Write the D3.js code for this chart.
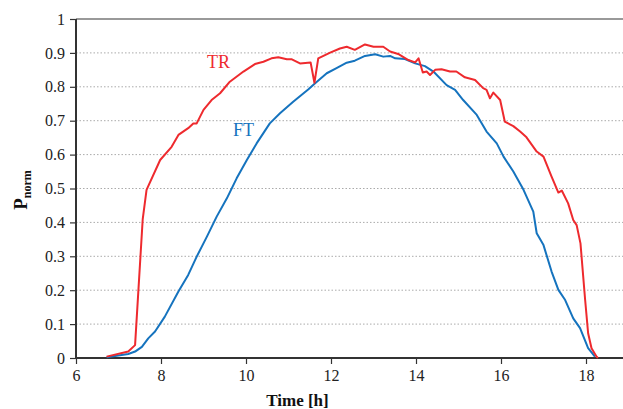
<!DOCTYPE html>
<html>
<head>
<meta charset="utf-8">
<script src="https://cdn.jsdelivr.net/npm/d3@7"></script>
<style>
  body { margin: 0; background: #fff; }
  text { font-family: 'Liberation Serif', 'DejaVu Serif', serif; }
</style>
</head>
<body>
<div id="chart"></div>
<script>
const xTicks = [6, 8, 10, 12, 14, 16, 18]
const yTicks = [0, 0.1, 0.2, 0.3, 0.4, 0.5, 0.6, 0.7, 0.8, 0.9, 1]

// TR series [time, Pnorm]
const trTime = [6.72, 7.23, 7.39, 7.57, 7.66, 7.98, 8.25, 8.41, 8.64, 8.76, 8.84, 9.0, 9.19, 9.39, 9.62, 9.94, 10.21, 10.41, 10.6, 10.76, 10.96, 11.08, 11.27, 11.52, 11.61, 11.7, 11.98, 12.21, 12.37, 12.56, 12.8, 13.0, 13.23, 13.39, 13.58, 13.82, 13.98, 14.06, 14.16, 14.25, 14.33, 14.45, 14.6, 14.8, 14.95, 15.15, 15.39, 15.58, 15.66, 15.74, 15.82, 15.98, 16.09, 16.29, 16.45, 16.6, 16.84, 17.0, 17.19, 17.35, 17.43, 17.58, 17.7, 17.78, 17.87, 17.98, 18.05, 18.13, 18.25, 18.28]
const trValue = [0.004, 0.019, 0.038, 0.41, 0.496, 0.584, 0.623, 0.658, 0.678, 0.692, 0.692, 0.732, 0.761, 0.781, 0.815, 0.845, 0.867, 0.874, 0.884, 0.887, 0.881, 0.881, 0.869, 0.872, 0.812, 0.884, 0.901, 0.913, 0.918, 0.909, 0.925, 0.918, 0.918, 0.904, 0.897, 0.879, 0.872, 0.884, 0.842, 0.845, 0.835, 0.85, 0.852, 0.845, 0.845, 0.828, 0.82, 0.796, 0.791, 0.766, 0.783, 0.761, 0.697, 0.684, 0.668, 0.651, 0.609, 0.594, 0.535, 0.488, 0.494, 0.456, 0.407, 0.392, 0.338, 0.171, 0.073, 0.029, 0.004, 0]

// FT series [time, Pnorm]
const ftTime = [6.72, 7.23, 7.39, 7.55, 7.7, 7.86, 8.09, 8.41, 8.64, 8.84, 9.08, 9.31, 9.55, 9.78, 10.02, 10.25, 10.56, 10.8, 11.11, 11.47, 11.62, 11.9, 12.13, 12.37, 12.56, 12.8, 13.04, 13.23, 13.39, 13.51, 13.74, 13.98, 14.21, 14.41, 14.72, 14.92, 15.11, 15.43, 15.66, 15.9, 16.06, 16.29, 16.53, 16.76, 16.84, 17.0, 17.19, 17.35, 17.51, 17.7, 17.86, 18.05, 18.21]
const ftValue = [0.002, 0.012, 0.019, 0.033, 0.058, 0.078, 0.122, 0.196, 0.245, 0.299, 0.358, 0.417, 0.471, 0.53, 0.584, 0.633, 0.692, 0.722, 0.756, 0.793, 0.81, 0.84, 0.855, 0.871, 0.877, 0.891, 0.896, 0.889, 0.891, 0.884, 0.882, 0.869, 0.861, 0.845, 0.805, 0.791, 0.761, 0.717, 0.668, 0.633, 0.594, 0.55, 0.496, 0.432, 0.368, 0.333, 0.255, 0.201, 0.171, 0.117, 0.088, 0.029, 0.004]

const width = 623
const height = 409
const margin = { top: 19, left: 76, bottom: 51 }

const svg = d3.select('#chart')
  .append('svg')
  .attr('width', width)
  .attr('height', height)

const x = d3.scaleLinear().domain([6, 19]).range([margin.left, margin.left + 13 * 42.5])
const y = d3.scaleLinear().domain([0, 1]).range([height - margin.bottom, margin.top])

// dotted grid
svg.append('g')
  .selectAll('line')
  .data(yTicks.filter(d => d > 0 && d < 1))
  .enter()
  .append('line')
  .attr('x1', margin.left)
  .attr('x2', width)
  .attr('y1', d => y(d))
  .attr('y2', d => y(d))
  .attr('stroke', '#aaa')
  .attr('stroke-width', 1)
  .attr('stroke-dasharray', '1.5,2')

// top border
svg.append('line')
  .attr('x1', margin.left)
  .attr('x2', width)
  .attr('y1', y(1))
  .attr('y2', y(1))
  .attr('stroke', '#777')
  .attr('stroke-width', 1.5)

const yAxis = svg.append('g')
  .attr('transform', `translate(${margin.left},0)`)
  .call(d3.axisLeft(y).tickValues(yTicks).tickFormat(d3.format('')).tickSize(6).tickPadding(5))

const xAxis = svg.append('g')
  .attr('transform', `translate(0,${y(0)})`)
  .call(d3.axisBottom(x).tickValues(xTicks).tickSize(6).tickPadding(6))

;[yAxis, xAxis].forEach(ax => {
  ax.attr('font-family', 'Liberation Serif, serif').attr('font-size', 16)
  ax.select('.domain').attr('stroke', '#333').attr('stroke-width', 2)
  ax.selectAll('.tick line').attr('stroke', '#333').attr('stroke-width', 1.2)
  ax.selectAll('.tick text')
    .attr('font-family', 'Liberation Serif, serif')
    .attr('font-size', 16)
    .attr('fill', '#222')
})
// x axis domain should span to the edge
xAxis.select('.domain').attr('d', `M${margin.left},0H${width}`)
yAxis.select('.domain').attr('d', `M0,${y(1)}V${y(0)}`)

const line = d3.line()
  .x(d => x(d[0]))
  .y(d => y(d[1]))

const trData = trTime.map((t, i) => [t, trValue[i]])
const ftData = ftTime.map((t, i) => [t, ftValue[i]])

svg.append('path')
  .datum(ftData)
  .attr('d', line)
  .attr('fill', 'none')
  .attr('stroke', '#1573be')
  .attr('stroke-width', 2)
  .attr('stroke-linejoin', 'round')

svg.append('path')
  .datum(trData)
  .attr('d', line)
  .attr('fill', 'none')
  .attr('stroke', '#ee2a2e')
  .attr('stroke-width', 2)
  .attr('stroke-linejoin', 'round')

svg.append('text')
  .attr('x', 207)
  .attr('y', 68)
  .attr('fill', '#ee2a2e')
  .style('font-size', '18px')
  .text('TR')

svg.append('text')
  .attr('x', 233)
  .attr('y', 136)
  .attr('fill', '#1573be')
  .style('font-size', '18px')
  .text('FT')

// axis titles
svg.append('text')
  .attr('x', (margin.left + width) / 2 - 52)
  .attr('y', 406)
  .attr('text-anchor', 'middle')
  .style('font-size', '17px')
  .style('font-weight', 'bold')
  .attr('fill', '#111')
  .text('Time [h]')

const yTitle = svg.append('text')
  .attr('transform', 'translate(27,190) rotate(-90)')
  .attr('text-anchor', 'middle')
  .style('font-weight', 'bold')
  .attr('fill', '#111')
yTitle.append('tspan').style('font-size', '19px').text('P')
yTitle.append('tspan').style('font-size', '12px').attr('dy', 4).text('norm')
</script>
</body>
</html>
